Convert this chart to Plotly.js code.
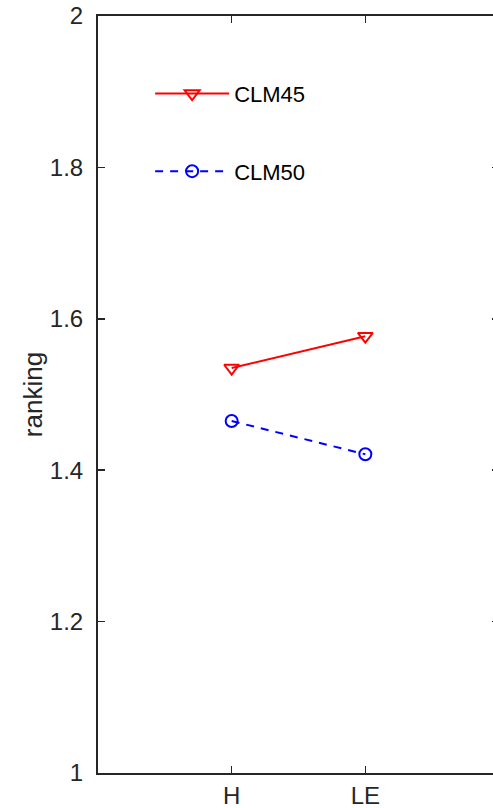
<!DOCTYPE html>
<html>
<head>
<meta charset="utf-8">
<script src="https://cdn.plot.ly/plotly-3.0.1.min.js"></script>
<style>
  html, body { margin: 0; padding: 0; background: #fff; overflow: hidden; }
  #chart { width: 505px; height: 808px; }
</style>
</head>
<body>
<div id="chart"></div>
<script>
// Mean ranking per flux for the two land model versions
const categories = ['H', 'LE'];
const clm45 = [1.535, 1.577];
const clm50 = [1.465, 1.421];
const yTicks = [1, 1.2, 1.4, 1.6, 1.8, 2];

const axisColor = '#262626';
const font = 'Liberation Sans, Arial, Helvetica, sans-serif';

const traces = [
  {
    x: categories, y: clm45, name: 'CLM45', type: 'scatter', mode: 'lines+markers',
    legendgroup: 'a',
    line: { color: '#ff0000', width: 2 },
    marker: { symbol: 'triangle-down-open', size: 13, color: '#ff0000', line: { width: 2 } }
  },
  {
    x: categories, y: clm50, name: 'CLM50', type: 'scatter', mode: 'lines+markers',
    legendgroup: 'b',
    line: { color: '#0000ff', width: 2, dash: '8px,7px' },
    marker: { symbol: 'circle-open', size: 12, color: '#0000ff', line: { width: 2 } }
  }
];

const layout = {
  width: 505, height: 808,
  margin: { l: 98, r: 6, t: 16, b: 35 },
  paper_bgcolor: '#fff', plot_bgcolor: '#fff',
  font: { family: font, size: 24, color: axisColor },
  showlegend: true,
  legend: {
    x: 0.13, y: 0.925, xanchor: 'left', yanchor: 'top',
    bgcolor: 'rgba(0,0,0,0)', borderwidth: 0,
    font: { family: font, size: 22, color: '#000' },
    traceorder: 'grouped', tracegroupgap: 46, itemwidth: 74
  },
  xaxis: {
    type: 'category', range: [-1, 2],
    showgrid: false, zeroline: false,
    showline: true, linecolor: axisColor, linewidth: 2, mirror: 'ticks',
    ticks: 'inside', ticklen: 7, tickwidth: 1.5, tickcolor: axisColor,
    tickfont: { family: font, size: 24, color: axisColor },
    ticklabelstandoff: 0
  },
  yaxis: {
    range: [1, 2], tickvals: yTicks,
    showgrid: false, zeroline: false,
    showline: true, linecolor: axisColor, linewidth: 2, mirror: 'ticks',
    ticks: 'inside', ticklen: 7, tickwidth: 1.5, tickcolor: axisColor,
    tickfont: { family: font, size: 24, color: axisColor },
    ticklabelstandoff: 8,
    title: { text: 'ranking', font: { family: font, size: 26, color: axisColor }, standoff: 0 }
  }
};

Plotly.newPlot('chart', traces, layout, { displayModeBar: false, staticPlot: true });
</script>
</body>
</html>
